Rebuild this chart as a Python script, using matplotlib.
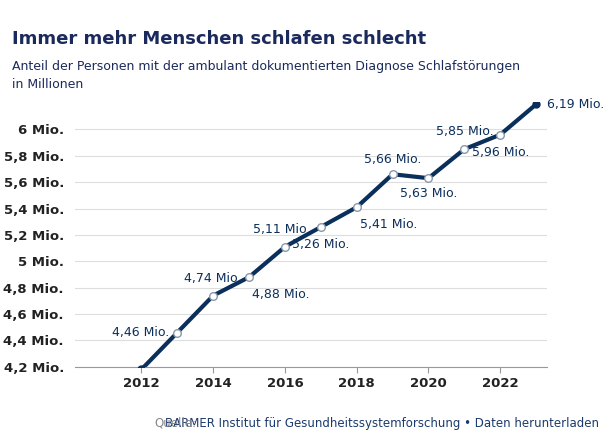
import matplotlib
matplotlib.use("Agg")
import matplotlib.pyplot as plt

years = [2012,2013,2014,2015,2016,2017,2018,2019,2020,2021,2022,2023]
values = [4.18,4.46,4.74,4.88,5.11,5.26,5.41,5.66,5.63,5.85,5.96,6.19]
labels = ["4,18 Mio.","4,46 Mio.","4,74 Mio.","4,88 Mio.","5,11 Mio.","5,26 Mio.","5,41 Mio.","5,66 Mio.","5,63 Mio.","5,85 Mio.","5,96 Mio.","6,19 Mio."]
yticks = [4.2,4.4,4.6,4.8,5.0,5.2,5.4,5.6,5.8,6.0]
ytlabels = ["4,2 Mio.","4,4 Mio.","4,6 Mio.","4,8 Mio.","5 Mio.","5,2 Mio.","5,4 Mio.","5,6 Mio.","5,8 Mio.","6 Mio."]
xticks = [2012,2014,2016,2018,2020,2022]

navy = "#0b2f5b"
fig = plt.figure(figsize=(6.05,4.42), dpi=100)
ax = fig.add_axes([0.124, 0.17, 0.78, 0.60])
ax.plot(years, values, color=navy, lw=3, zorder=3)
ax.scatter(years[1:-1], values[1:-1], s=30, facecolor="white", edgecolor="#8899aa", lw=1, zorder=4)
ax.scatter([years[0],years[-1]], [values[0],values[-1]], s=25, color=navy, zorder=5)
offs = [(-6,0,'right','center'),(-6,0,'right','center'),(0,8,'center','bottom'),(2,-8,'left','top'),
        (-2,8,'center','bottom'),(0,-8,'center','top'),(2,-8,'left','top'),(0,6,'center','bottom'),
        (0,-6,'center','top'),(0,8,'center','bottom'),(0,-8,'center','top'),(8,0,'left','center')]
for x,y,l,(dx,dy,ha,va) in zip(years,values,labels,offs):
    ax.annotate(l,(x,y),xytext=(dx,dy),textcoords="offset points",ha=ha,va=va,fontsize=9,color=navy)
ax.set_ylim(4.2,6.21)
ax.set_xlim(2010.15,2023.3)
ax.set_yticks(yticks); ax.set_yticklabels(ytlabels, fontweight="bold", fontsize=9.5, color="#222222")
ax.set_xticks(xticks); ax.set_xticklabels([str(x) for x in xticks], fontweight="bold", fontsize=9.5, color="#222222")
ax.grid(axis="y", color="#dddddd", lw=0.8)
for s in ["top","right","left"]: ax.spines[s].set_visible(False)
ax.spines["bottom"].set_color("#999999")
ax.tick_params(axis="y", length=0, pad=8)
ax.tick_params(axis="x", length=4, color="#999999")
fig.text(0.02, 0.90, "Immer mehr Menschen schlafen schlecht", fontsize=13, fontweight="bold", color="#1b2a5c")
fig.text(0.02, 0.80, "Anteil der Personen mit der ambulant dokumentierten Diagnose Schlafstörungen\nin Millionen",
         fontsize=9, color="#1b2a5c", linespacing=1.5)
t2 = fig.text(0.99, 0.035, "BARMER Institut für Gesundheitssystemforschung • Daten herunterladen",
              fontsize=8.5, color="#1b3a6c", ha="right")
fig.text(0.255, 0.035, "Quelle:", fontsize=8.5, color="#888888")
fig.savefig("out.png")
